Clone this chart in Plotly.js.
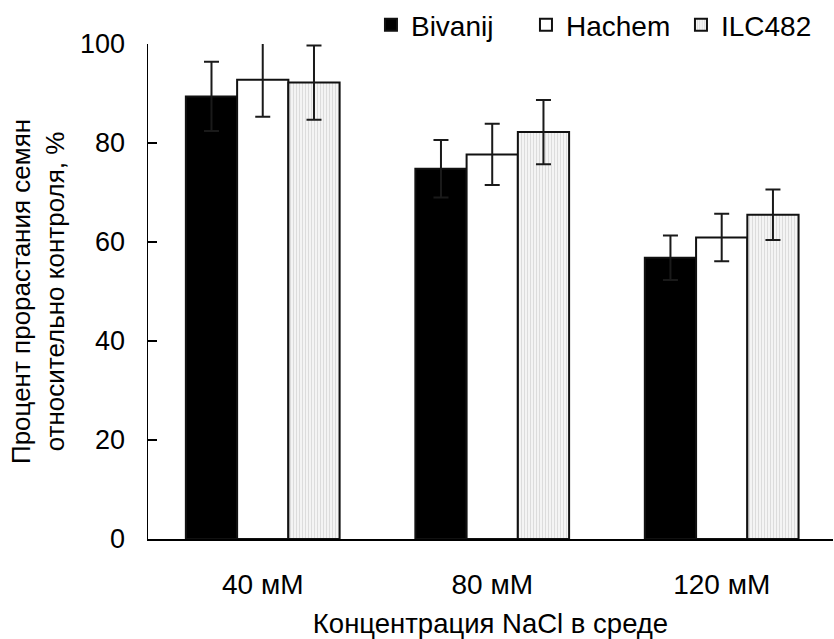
<!DOCTYPE html>
<html>
<head>
<meta charset="utf-8">
<script src="https://cdn.plot.ly/plotly-3.0.1.min.js"></script>
<style>
  html, body { margin: 0; padding: 0; background: #fff; }
  #chart { width: 834px; height: 639px; }
</style>
</head>
<body>
<div id="chart"></div>
<script>
// Salt concentrations in the growth medium
const concentrations = ['40 мМ', '80 мМ', '120 мМ'];

// Germination relative to control, % (mean and error)
const bivanij = [89.4, 74.8, 56.8];
const bivanijErr = [7.0, 5.8, 4.5];

const hachem = [92.8, 77.7, 60.9];
const hachemErr = [7.5, 6.2, 4.8];

const ilc482 = [92.2, 82.2, 65.5];
const ilc482Err = [7.5, 6.5, 5.1];

const FONT = 'Arial, "Liberation Sans", sans-serif';

function errorBars(values) {
  return {
    type: 'data', array: values, visible: true,
    color: '#1a1a1a', thickness: 2, width: 7.5
  };
}

const outline = { color: '#111', width: 2 };

const traces = [
  {
    type: 'bar', name: 'Bivanij', x: concentrations, y: bivanij,
    error_y: errorBars(bivanijErr), cliponaxis: false,
    marker: { color: '#000', line: outline }
  },
  {
    type: 'bar', name: 'Hachem', x: concentrations, y: hachem,
    error_y: errorBars(hachemErr), cliponaxis: false,
    marker: { color: '#fff', line: outline }
  },
  {
    type: 'bar', name: 'ILC482', x: concentrations, y: ilc482,
    error_y: errorBars(ilc482Err), cliponaxis: false,
    marker: {
      color: '#f1f1f1', line: outline,
      pattern: { shape: '|', size: 3, solidity: 0.35, fgcolor: '#dcdcdc', bgcolor: '#f4f4f4' }
    }
  }
];

const layout = {
  width: 834, height: 639,
  margin: { l: 148, r: 1, t: 44, b: 100, autoexpand: false },
  paper_bgcolor: '#fff', plot_bgcolor: '#fff',
  font: { family: FONT, size: 27, color: '#000' },
  barmode: 'group', bargap: 0.33, bargroupgap: 0,
  showlegend: true,
  legend: {
    orientation: 'h', x: 0.3255, xanchor: 'left', y: 0.988, yanchor: 'bottom',
    itemwidth: 30, entrywidth: 110,
    font: { family: FONT, size: 28, color: '#000' },
    bgcolor: 'rgba(0,0,0,0)', traceorder: 'normal'
  },
  xaxis: {
    type: 'category', range: [-0.5, 2.485],
    showline: true, linecolor: '#000', linewidth: 1.5,
    ticks: '', showgrid: false, zeroline: false,
    ticklabelstandoff: 20, tickfont: { family: FONT, size: 28 },
    title: { text: 'Концентрация NaCl в среде', font: { family: FONT, size: 27.5 }, standoff: 16 }
  },
  yaxis: {
    range: [0, 100], dtick: 20, tick0: 0,
    showline: true, linecolor: '#000', linewidth: 1.5,
    ticks: 'inside', ticklen: 9, tickwidth: 1.5, tickcolor: '#000',
    showgrid: false, zeroline: false,
    ticklabelstandoff: 16,
    title: { text: 'Процент прорастания семян<br>относительно контроля, %', font: { family: FONT, size: 26 }, standoff: 8 }
  }
};

Plotly.newPlot('chart', traces, layout, { displayModeBar: false, staticPlot: true });
</script>
</body>
</html>
